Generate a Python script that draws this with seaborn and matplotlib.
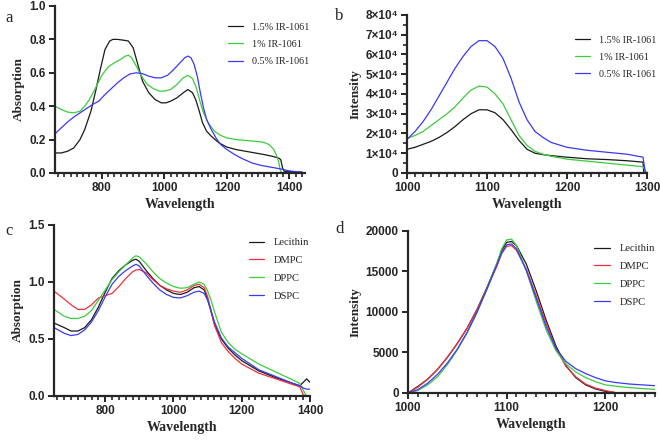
import matplotlib
matplotlib.use("Agg")
import matplotlib.pyplot as plt
import seaborn as sns
import pandas as pd
from matplotlib.ticker import MultipleLocator, FuncFormatter

# ---- panel a: absorption vs IR-1061 loading ----
a_black_nm = [650, 670, 690, 710, 730, 745, 765, 780, 795, 810, 825, 835, 850, 870, 885, 900, 915, 930, 950,
              970, 990, 1005, 1020, 1040, 1060, 1075, 1090, 1100, 1110, 1122, 1135, 1150, 1175, 1200, 1230,
              1260, 1290, 1320, 1345, 1365, 1372, 1378, 1383, 1400, 1420, 1440]
a_black = [0.12, 0.12, 0.13, 0.15, 0.20, 0.26, 0.37, 0.49, 0.62, 0.74, 0.79, 0.80, 0.80, 0.795, 0.79, 0.75,
           0.65, 0.55, 0.48, 0.44, 0.42, 0.42, 0.43, 0.45, 0.48, 0.50, 0.48, 0.44, 0.38, 0.30, 0.25, 0.22,
           0.18, 0.155, 0.14, 0.13, 0.12, 0.11, 0.10, 0.09, 0.08, 0.03, 0.01, 0.01, 0.005, 0.005]
a_green_nm = [650, 670, 690, 710, 730, 745, 760, 780, 800, 820, 840, 860, 875, 885, 895, 910, 925, 945, 965,
              985, 1000, 1020, 1040, 1060, 1075, 1090, 1102, 1115, 1125, 1140, 1160, 1180, 1200, 1230, 1260,
              1290, 1315, 1335, 1350, 1360, 1366, 1370, 1375]
a_green = [0.40, 0.38, 0.365, 0.36, 0.37, 0.40, 0.44, 0.51, 0.585, 0.635, 0.66, 0.68, 0.70, 0.705, 0.69, 0.64,
           0.585, 0.53, 0.505, 0.49, 0.49, 0.50, 0.53, 0.57, 0.585, 0.565, 0.51, 0.42, 0.36, 0.30, 0.25,
           0.225, 0.21, 0.20, 0.195, 0.19, 0.185, 0.17, 0.14, 0.10, 0.06, 0.02, 0.0]
a_blue_nm = [650, 670, 690, 710, 730, 750, 770, 790, 810, 830, 850, 870, 890, 910, 930, 950, 970, 990, 1010,
             1030, 1050, 1065, 1075, 1085, 1095, 1105, 1115, 1125, 1135, 1150, 1165, 1180, 1200, 1225, 1250,
             1280, 1310, 1340, 1370, 1400, 1440]
a_blue = [0.235, 0.27, 0.305, 0.335, 0.36, 0.385, 0.41, 0.43, 0.47, 0.505, 0.54, 0.57, 0.593, 0.60, 0.595,
          0.58, 0.57, 0.57, 0.585, 0.62, 0.66, 0.69, 0.70, 0.69, 0.65, 0.58, 0.48, 0.39, 0.32, 0.26, 0.21,
          0.17, 0.14, 0.11, 0.085, 0.06, 0.045, 0.035, 0.025, 0.012, 0.005]
a_labels = ["1.5% IR-1061", "1% IR-1061", "0.5% IR-1061"]

# ---- panel b: emission (x 10^4) vs IR-1061 loading ----
b_nm = [1000, 1010, 1020, 1030, 1040, 1050, 1060, 1070, 1080, 1090, 1100, 1110, 1120, 1130, 1140, 1150,
        1160, 1170, 1180, 1200, 1225, 1250, 1275, 1295]
b_black = [1.2, 1.3, 1.45, 1.6, 1.8, 2.05, 2.35, 2.7, 3.0, 3.2, 3.2, 3.05, 2.7, 2.2, 1.65, 1.2, 1.0, 0.93,
           0.88, 0.8, 0.72, 0.68, 0.62, 0.55]
b_green = [1.75, 1.9, 2.1, 2.4, 2.7, 3.0, 3.35, 3.8, 4.2, 4.4, 4.35, 4.0, 3.5, 2.7, 1.9, 1.4, 1.1, 0.95,
           0.85, 0.7, 0.6, 0.5, 0.4, 0.32]
b_blue = [1.7, 2.1, 2.6, 3.2, 3.9, 4.6, 5.3, 5.9, 6.4, 6.7, 6.7, 6.4, 5.8, 4.8, 3.6, 2.7, 2.1, 1.8, 1.55,
          1.3, 1.15, 1.05, 0.95, 0.8]
b_end_nm = [1296, 1300, 1298]   # where each trace drops to zero (black, green, blue)

# ---- panel c: absorption vs lipid ----
c_nm = [650, 680, 700, 720, 740, 760, 780, 800, 820, 840, 860, 880, 890, 900, 920, 940, 960, 980, 1000,
        1020, 1040, 1060, 1075, 1090, 1100, 1110, 1120, 1140, 1160, 1180, 1200, 1250, 1300, 1350, 1370]
c_lecithin = [0.64, 0.60, 0.57, 0.57, 0.60, 0.67, 0.78, 0.91, 1.03, 1.10, 1.15, 1.19, 1.20, 1.18, 1.10,
              1.03, 0.97, 0.93, 0.90, 0.89, 0.91, 0.95, 0.96, 0.93, 0.85, 0.74, 0.63, 0.50, 0.42, 0.36,
              0.31, 0.22, 0.16, 0.11, 0.09]
c_dmpc = [0.92, 0.85, 0.80, 0.76, 0.76, 0.80, 0.86, 0.88, 0.90, 0.96, 1.03, 1.09, 1.105, 1.11, 1.08, 1.02,
          0.97, 0.94, 0.92, 0.91, 0.93, 0.97, 0.98, 0.95, 0.87, 0.75, 0.62, 0.47, 0.39, 0.33, 0.28, 0.20,
          0.15, 0.10, 0.08]
c_dppc = [0.76, 0.70, 0.68, 0.68, 0.70, 0.75, 0.84, 0.93, 1.02, 1.09, 1.15, 1.21, 1.23, 1.22, 1.16, 1.09,
          1.03, 0.99, 0.96, 0.945, 0.95, 0.98, 1.0, 0.98, 0.92, 0.84, 0.74, 0.56, 0.47, 0.41, 0.37, 0.28,
          0.21, 0.14, 0.11]
c_dspc = [0.60, 0.55, 0.53, 0.54, 0.58, 0.65, 0.75, 0.87, 0.98, 1.05, 1.10, 1.14, 1.155, 1.14, 1.06, 0.99,
          0.93, 0.89, 0.865, 0.86, 0.88, 0.91, 0.92, 0.90, 0.84, 0.75, 0.65, 0.51, 0.43, 0.38, 0.33, 0.23,
          0.17, 0.11, 0.09]
c_tail_nm = [1380, 1390, 1400]
c_tail = {"Lecithin": [0.12, 0.15, 0.12], "DMPC": [0.01, 0.0, 0.0], "DPPC": [0.05, 0.0, 0.0],
          "DSPC": [0.07, 0.06, 0.06]}

# ---- panel d: emission vs lipid ----
d_nm = [1000, 1010, 1020, 1030, 1040, 1050, 1060, 1070, 1080, 1090, 1095, 1100, 1105, 1110, 1120, 1130,
        1140, 1150, 1160, 1170, 1180, 1190, 1200, 1210]
d_lecithin = [0, 800, 1700, 2900, 4400, 6100, 8000, 10300, 13000, 15900, 17600, 18600, 18700, 18200, 15900,
              12600, 9000, 5800, 3400, 1900, 1000, 500, 200, 50]
d_dmpc = [0, 700, 1700, 2900, 4400, 6100, 8000, 10300, 12900, 15600, 17200, 18100, 18200, 17600, 15300,
          12000, 8600, 5500, 3300, 2000, 1100, 600, 300, 50]
d_dppc = [0, 300, 1000, 2000, 3500, 5300, 7400, 9900, 12800, 16000, 17800, 18900, 19000, 18200, 15100,
          11300, 7800, 5200, 3600, 2600, 1900, 1400, 1000, 850]
d_dspc = [0, 400, 1200, 2300, 3700, 5400, 7500, 10000, 12800, 15800, 17300, 18300, 18400, 17800, 15100,
          11700, 8200, 5500, 3900, 3000, 2400, 1900, 1500, 1300]
d_tail_nm = [1225, 1250]
d_tail = {"DPPC": [650, 450], "DSPC": [1100, 900]}

lipids = ["Lecithin", "DMPC", "DPPC", "DSPC"]
BLACK, GREEN, BLUE, RED = "#1a1a1a", "#3dcc3d", "#3a3af5", "#f2303c"

sns.set_style("ticks")
plt.rcParams["font.family"] = ["Liberation Sans", "DejaVu Sans"]
SERIF = ["Liberation Serif", "DejaVu Serif"]

fig = plt.figure(figsize=(6.6, 4.43), dpi=100)
ax_a = fig.add_axes([0.0833, 0.6095, 0.379, 0.377])
ax_b = fig.add_axes([0.6167, 0.6095, 0.3636, 0.3567])
ax_c = fig.add_axes([0.0818, 0.1061, 0.388, 0.386])
ax_d = fig.add_axes([0.618, 0.1129, 0.374, 0.3657])


def draw(ax, series, palette):
    frames = [pd.DataFrame({"nm": x, "val": y, "sample": name}) for name, x, y in series]
    df = pd.concat(frames, ignore_index=True)
    sns.lineplot(data=df, x="nm", y="val", hue="sample", palette=palette, estimator=None,
                 sort=False, linewidth=0.9, ax=ax)


def style(ax, xlim, ylim, xmaj, xmin, ymaj, ymin, ylabel):
    ax.set_xlim(*xlim)
    ax.set_ylim(*ylim)
    ax.xaxis.set_major_locator(MultipleLocator(xmaj))
    ax.xaxis.set_minor_locator(MultipleLocator(xmin))
    ax.yaxis.set_major_locator(MultipleLocator(ymaj))
    if ymin:
        ax.yaxis.set_minor_locator(MultipleLocator(ymin))
    sns.despine(ax=ax)
    for s in ["left", "bottom"]:
        ax.spines[s].set_linewidth(1.6)
    ax.tick_params(which="major", length=4.5, width=1.4, labelsize=8.5, pad=2)
    ax.tick_params(which="minor", length=3, width=1.2)
    for t in ax.get_xticklabels() + ax.get_yticklabels():
        t.set_fontweight("bold")
    ax.set_xlabel("Wavelength", family=SERIF, fontweight="bold", fontsize=10, labelpad=3)
    ax.set_ylabel(ylabel, family=SERIF, fontweight="bold", fontsize=9.5, labelpad=3)


def legend(ax, anchor, size):
    h, l = ax.get_legend_handles_labels()
    ax.legend(h, l, loc="upper left", bbox_to_anchor=anchor, frameon=False, prop={"family": SERIF, "size": size},
              handlelength=1.5, handletextpad=0.9, labelspacing=0.8, borderpad=0, borderaxespad=0)


# a
draw(ax_a, [(a_labels[0], a_black_nm, a_black), (a_labels[1], a_green_nm, a_green),
            (a_labels[2], a_blue_nm, a_blue)], [BLACK, GREEN, BLUE])
style(ax_a, (650, 1450), (0, 1.0), 200, 20, 0.2, None, "Absorption")
ax_a.yaxis.set_major_formatter(FuncFormatter(lambda v, p: f"{v:.1f}"))
legend(ax_a, (0.69, 0.90), 7.3)

# b
b_series = []
for name, vals, end in zip(a_labels, [b_black, b_green, b_blue], b_end_nm):
    b_series.append((name, b_nm + [end], [v * 1e4 for v in vals] + [0]))
draw(ax_b, b_series, [BLACK, GREEN, BLUE])
style(ax_b, (1000, 1300), (0, 80000), 100, 10, 10000, 5000, "Intensity")
ax_b.yaxis.set_major_formatter(FuncFormatter(lambda v, p: "0" if v == 0 else f"{int(round(v / 1e4))}×10⁴"))
legend(ax_b, (0.70, 0.87), 7.3)

# c
c_vals = [c_lecithin, c_dmpc, c_dppc, c_dspc]
draw(ax_c, [(n, c_nm + c_tail_nm, v + c_tail[n]) for n, v in zip(lipids, c_vals)], [BLACK, RED, GREEN, BLUE])
style(ax_c, (650, 1400), (0, 1.5), 200, 20, 0.5, None, "Absorption")
ax_c.yaxis.set_major_formatter(FuncFormatter(lambda v, p: f"{v:.1f}"))
legend(ax_c, (0.76, 0.925), 7.6)

# d
d_vals = [d_lecithin, d_dmpc, d_dppc, d_dspc]
d_series = []
for n, v in zip(lipids, d_vals):
    if n in d_tail:
        d_series.append((n, d_nm + d_tail_nm, v + d_tail[n]))
    else:
        d_series.append((n, d_nm, v))
draw(ax_d, d_series, [BLACK, RED, GREEN, BLUE])
style(ax_d, (1000, 1250), (0, 20000), 100, 10, 5000, None, "Intensity")
legend(ax_d, (0.755, 0.92), 7.6)

for x, y, s in [(0.008, 0.96, "a"), (0.508, 0.965, "b"), (0.008, 0.478, "c"), (0.508, 0.483, "d")]:
    fig.text(x, y, s, family=SERIF, fontsize=12, va="center")

fig.savefig("out.png", dpi=100)
